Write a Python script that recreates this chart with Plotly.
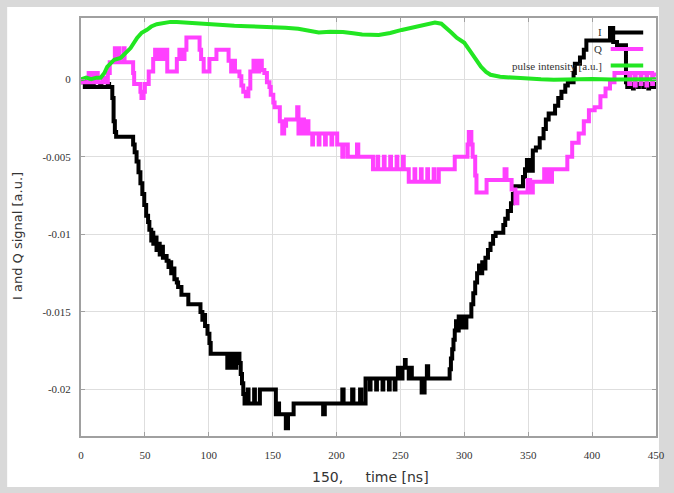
import plotly.graph_objects as go

# ---------------- data ----------------
i_time = [0, 3, 4.5, 7, 8.5, 10, 15, 16, 21, 22,
          24.5, 25.5, 26.5, 27.5,
          40.8, 42, 43.5, 45, 46.5, 48, 49.5, 51, 52.5,
          53.5, 55, 56, 56.6, 58.5, 59.1, 61, 61.6, 63.5, 64.1, 66, 67,
          68.5, 70, 70.6, 72.5, 73.1, 75, 76, 78.6,
          84, 93.5, 95, 96.5, 97.1, 99, 100.5, 101.5,
          114.5, 115.3, 117, 117.8, 120.5, 121.5,
          124, 125, 126, 127, 128,
          130.5, 131.1, 135.5, 136.1, 140,
          152.5, 153.7, 155, 160.3, 162, 166.4,
          189.5, 190.8, 204.5, 205.5, 212.2, 213.2, 218.4, 219.4,
          222.7, 226, 226.6, 231, 231.6, 236, 236.6, 241, 241.6, 245.5, 246.1,
          248, 251, 251.6, 253.5, 254.1, 256.5, 257.1, 258.9,
          266.6, 268.9, 270.7, 271.7,
          288.5, 289.5, 290.5, 291.5, 292.5, 293.5, 295, 295.6, 298, 298.6, 301, 301.6,
          305.5, 307, 308.5, 310, 311.5, 313, 314, 315.5, 316.5, 318.5, 320.5, 322.5, 324.5,
          330.5, 332, 334, 336.5, 338, 339.5,
          345.9, 347.5, 349, 350.5, 351.1, 352.5, 353.6, 356, 359, 362, 363.8, 366, 371, 373.5, 376, 379, 381,
          385.5, 386.5, 390.5, 393.5, 395.5,
          414, 416.5, 419.5, 426.5, 427.5, 430, 432, 432.6, 436, 436.6, 440, 440.6, 444, 444.6, 447, 448.5, 450]
i_signal = [-0.0002, -0.0005, -0.0002, -0.0005, -0.0002, -0.0005, -0.0003, -0.0005, -0.0003, -0.0005,
            -0.0012, -0.0027, -0.0034, -0.0037,
            -0.0042, -0.0047, -0.0053, -0.0060, -0.0067, -0.0074, -0.0081, -0.0088, -0.0092,
            -0.0097, -0.0104, -0.0099, -0.0106, -0.0102, -0.0110, -0.0106, -0.0113, -0.0108, -0.0115, -0.0114, -0.0117,
            -0.0121, -0.0118, -0.0125, -0.0122, -0.0129, -0.0131, -0.0134, -0.0139,
            -0.0145, -0.0150, -0.0155, -0.0152, -0.0159, -0.0164, -0.0170, -0.0177,
            -0.0186, -0.0177, -0.0186, -0.0177, -0.0186, -0.0177,
            -0.0183, -0.0190, -0.0196, -0.0203, -0.0209,
            -0.0200, -0.0209, -0.0200, -0.0209, -0.0200,
            -0.0216, -0.0209, -0.0216, -0.0225, -0.0216, -0.0209,
            -0.0216, -0.0209, -0.0200, -0.0209, -0.0200, -0.0209, -0.0200, -0.0209,
            -0.0193, -0.0200, -0.0193, -0.0200, -0.0193, -0.0200, -0.0193, -0.0200, -0.0193, -0.0200, -0.0193,
            -0.0186, -0.0193, -0.0186, -0.0181, -0.0186, -0.0193, -0.0186, -0.0193,
            -0.0202, -0.0193, -0.0185, -0.0193,
            -0.0187, -0.0180, -0.0174, -0.0168, -0.0162, -0.0156, -0.0162, -0.0153, -0.0160, -0.0153, -0.0160, -0.0153,
            -0.0145, -0.0138, -0.0131, -0.0125, -0.0120, -0.0125, -0.0118, -0.0122, -0.0115, -0.0110, -0.0106, -0.0101, -0.0099,
            -0.0094, -0.0090, -0.0085, -0.0080, -0.0074, -0.0069,
            -0.0063, -0.0058, -0.0052, -0.0059, -0.0052, -0.0059, -0.0046, -0.0044, -0.0038, -0.0032, -0.0026, -0.0022, -0.0017, -0.0012, -0.0008, -0.0004, -0.0002,
            0.0004, 0.0010, 0.0014, 0.0019, 0.0025,
            0.0033, 0.0024, 0.0022, -0.0002, -0.0005, -0.0003, -0.0006, -0.0003, -0.0005, -0.0003, -0.0005, -0.0003, -0.0006, -0.0004, -0.0005, -0.0003, -0.0003]

q_time = [0, 6, 6.6, 9, 9.6, 12.5, 13.1, 17, 19, 21, 22.5, 26.5, 27.1, 29.5, 30.1, 33.5, 34.1,
          40.8, 41.6, 46.5, 47.3, 49, 50, 53, 56.5, 58, 59.5, 60.1, 62.5, 63.1, 65.5, 66.1, 67.5, 75, 77, 79, 81, 82.5,
          92.8, 94, 96, 100.5, 106, 115.5, 117.5, 119, 120.5, 124, 125.5, 127, 129, 131, 132.5, 135, 137,
          139.5, 141.5, 143.5, 145.5, 147.5, 148.5, 150.5, 151.5,
          155.6, 157.5, 159, 160.5, 169.2, 170.2, 172.5, 174.5, 176,
          178, 181, 181.6, 186, 186.6, 191, 191.6, 196, 196.6,
          200.5, 204.5, 205.5, 208.8, 216, 217,
          228.5, 232, 232.6, 237, 237.6, 242, 242.6, 247, 247.6, 252, 252.6,
          256.5, 261, 261.6, 266, 266.6, 271, 271.6, 276, 276.6, 280,
          292.5, 302.5, 303.5, 305.5, 306.5, 308.5, 309.5, 317.4, 331.5, 333, 337, 340, 341.5, 349.5, 351.5, 353.6,
          362.5, 364.5, 365.1, 368, 368.6, 372.5, 380.6, 384.4, 389.5, 393.5, 397.5, 402, 406.5, 410.5, 414, 417.5,
          429, 430, 433.5, 434.1, 438, 438.6, 442.5, 443.1, 447, 447.6, 450]
q_signal = [-0.0002, 0.0004, -0.0002, 0.0004, -0.0002, 0.0004, -0.0002, 0.0001, -0.0002, 0.0004, 0.0011, 0.0020, 0.0011, 0.0020, 0.0011, 0.0020, 0.0011,
            0.0004, -0.0003, -0.0008, -0.0012, -0.0008, -0.0003, 0.0005, 0.0013, 0.0019, 0.0013, 0.0019, 0.0013, 0.0019, 0.0013, 0.0019, 0.0005, 0.0013, 0.0019, 0.0013, 0.0019, 0.0027,
            0.0019, 0.0013, 0.0005, 0.0013, 0.0019, 0.0012, 0.0005, 0.0012, 0.0005, 0.0002, -0.0004, -0.0008, -0.0011, -0.0006, 0.0005, 0.0012, 0.0005,
            0.0012, 0.0006, 0.0004, -0.0002, -0.0005, -0.0010, -0.0015, -0.0018,
            -0.0027, -0.0035, -0.0030, -0.0026, -0.0018, -0.0035, -0.0026, -0.0035, -0.0027,
            -0.0035, -0.0042, -0.0035, -0.0042, -0.0035, -0.0042, -0.0035, -0.0042, -0.0035,
            -0.0042, -0.0050, -0.0042, -0.0050, -0.0042, -0.0050,
            -0.0058, -0.0050, -0.0058, -0.0050, -0.0058, -0.0050, -0.0058, -0.0050, -0.0058, -0.0050, -0.0058,
            -0.0066, -0.0058, -0.0066, -0.0058, -0.0066, -0.0058, -0.0066, -0.0058, -0.0066, -0.0058,
            -0.0050, -0.0042, -0.0034, -0.0042, -0.0050, -0.0062, -0.0073, -0.0065, -0.0058, -0.0065, -0.0071, -0.0080, -0.0073, -0.0065, -0.0073, -0.0066,
            -0.0058, -0.0066, -0.0058, -0.0066, -0.0058, -0.0058, -0.0050, -0.0041, -0.0035, -0.0027, -0.0020, -0.0018, -0.0011, -0.0006, -0.0002, 0.0004,
            -0.0003, 0.0004, -0.0004, 0.0004, -0.0003, 0.0004, -0.0004, 0.0004, -0.0003, 0.0003, 0.0003]

pulse_time = [0, 4, 8, 12, 15.4, 18.3, 20.5, 23.4, 26, 31, 35, 38.8, 43.9, 47.5, 51.6, 55, 59.3, 65, 70, 75, 80,
              90, 100, 110, 120, 130, 140, 150, 160, 170, 180, 186, 195, 205, 213, 220, 233, 242, 251, 261,
              270, 277, 282, 286, 290, 294, 300, 305, 309, 313, 317, 320.5, 328, 338, 348, 360, 370, 384,
              400, 415, 430, 440, 450]
pulse_signal = [0.0000, 0.0001, 0.0000, 0.0001, 0.0001, 0.0004, 0.0008, 0.00105, 0.00126, 0.00137, 0.0017, 0.00201, 0.00266, 0.0030, 0.00319, 0.0034, 0.00355, 0.00366, 0.0037, 0.0037, 0.00367,
                0.0036, 0.00352, 0.00348, 0.00345, 0.00342, 0.0034, 0.00336, 0.00332, 0.00325, 0.00312, 0.00302, 0.00306, 0.00305, 0.00297, 0.00288, 0.00285, 0.00298, 0.00318, 0.00338,
                0.00352, 0.00365, 0.00358, 0.00332, 0.0030, 0.00268, 0.00235, 0.00177, 0.00126, 0.00081, 0.00048, 0.00029, 0.00016, 0.0001, 0.00003, 0.0000, -0.00003, 0.0000,
                0.00002, -0.00002, 0.0000, 0.00002, 0.0000]

series_names = ["I", "Q", "pulse intensity [a.u.]"]
series_colors = ["#000000", "#ff40ff", "#22e622"]

x_ticks = [0, 50, 100, 150, 200, 250, 300, 350, 400, 450]
y_ticks = [0, -0.005, -0.01, -0.015, -0.02]
y_ticktext = ["0", "-0.005", "-0.01", "-0.015", "-0.02"]

# ---------------- figure ----------------
fig = go.Figure()
fig.add_trace(go.Scatter(x=i_time, y=i_signal, mode="lines", name=series_names[0],
                         line=dict(color=series_colors[0], width=4, shape="hv")))
fig.add_trace(go.Scatter(x=q_time, y=q_signal, mode="lines", name=series_names[1],
                         line=dict(color=series_colors[1], width=4, shape="hv")))
fig.add_trace(go.Scatter(x=pulse_time, y=pulse_signal, mode="lines", name=series_names[2],
                         line=dict(color=series_colors[2], width=4)))

W, H = 674, 493
L, R, T, B = 81, 9, 18, 57
pw, ph = W - L - R, H - T - B


def px_x(p):
    return (p - L) / pw


def px_y(p):
    return (H - B - p) / ph


shapes = [
    dict(type="rect", xref="paper", yref="paper", layer="below",
         x0=px_x(6), x1=px_x(668), y0=px_y(487), y1=px_y(7),
         fillcolor="white", line=dict(width=0)),
]
annotations = []
legend_rows = [32.5, 49, 65.5]
for name, color, yrow in zip(series_names, series_colors, legend_rows):
    shapes.append(dict(type="line", xref="paper", yref="paper", layer="above",
                       x0=px_x(619), x1=px_x(652), y0=px_y(yrow), y1=px_y(yrow),
                       line=dict(color=color, width=4)))
    annotations.append(dict(xref="paper", yref="paper", x=px_x(612), y=px_y(yrow),
                            text=name, showarrow=False, xanchor="right", yanchor="middle",
                            font=dict(family="Liberation Serif", size=11, color="#333333")))

annotations.append(dict(xref="paper", yref="paper", x=px_x(17), y=px_y(236),
                        text="I and Q signal [a.u.]", textangle=-90, showarrow=False,
                        xanchor="center", yanchor="middle",
                        font=dict(family="DejaVu Sans", size=13, color="#333333")))
annotations.append(dict(xref="paper", yref="paper", x=px_x(375), y=px_y(477),
                        text="150,\u00a0\u00a0\u00a0\u00a0\u00a0time [ns]", showarrow=False,
                        xanchor="center", yanchor="middle",
                        font=dict(family="DejaVu Sans", size=14, color="#333333")))

axis_common = dict(showgrid=True, gridcolor="#dedede", gridwidth=1, zeroline=False,
                   showline=True, linecolor="#a0a0a0", linewidth=2, mirror="ticks",
                   ticks="inside", ticklen=4, tickcolor="#a0a0a0",
                   tickfont=dict(family="Liberation Serif", size=11, color="#333333"))

fig.update_layout(
    width=W, height=H, autosize=False,
    margin=dict(l=L, r=R, t=T, b=B),
    paper_bgcolor="#d9d9d9", plot_bgcolor="white",
    showlegend=False,
    shapes=shapes, annotations=annotations,
    xaxis=dict(range=[0, 450], tickvals=x_ticks, ticklabelstandoff=8, **axis_common),
    yaxis=dict(range=[-0.0230, 0.00395], tickvals=y_ticks, ticktext=y_ticktext,
               ticklabelstandoff=6, **axis_common),
)

fig.write_html("out.html")
